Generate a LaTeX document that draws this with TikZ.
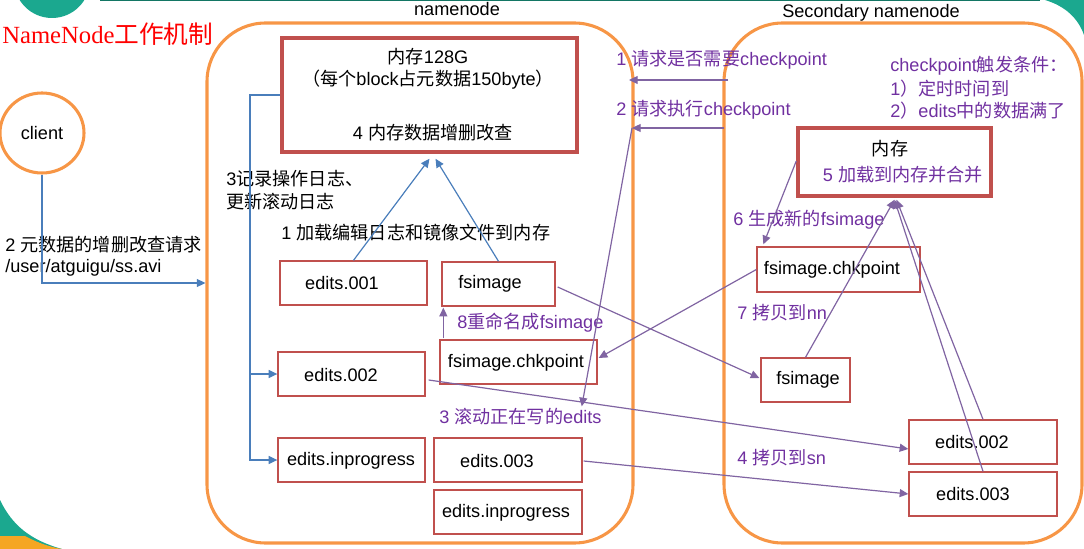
\documentclass[tikz,border=0pt]{standalone}
\usepackage{fontspec}
\setmainfont{Liberation Sans}
\newfontfamily\cjk{Noto Sans CJK SC}
\newfontfamily\titleserif{Liberation Serif}
\usetikzlibrary{arrows.meta,fit,calc,shapes.geometric}
\definecolor{orng}{HTML}{F79646}
\definecolor{boxred}{HTML}{C0504D}
\definecolor{lblue}{HTML}{4A7EBB}
\definecolor{lpurp}{HTML}{8064A2}
\definecolor{tpurp}{HTML}{7030A0}
\definecolor{deco}{HTML}{1BA88F}
\definecolor{decoorange}{HTML}{F5A623}
\newcommand{\zh}[1]{{\cjk #1}}
\tikzset{
  every node/.style={font=\fontsize{13.6}{16}\selectfont, inner sep=0pt},
  region/.style={draw=orng, line width=2.3pt, rounded corners=44pt, inner sep=0pt},
  membox/.style={draw=boxred, line width=2.6pt, inner sep=0pt},
  filebox/.style={draw=boxred, line width=1pt, inner sep=0pt},
  lbl/.style={anchor=west, text=black},
  plbl/.style={anchor=west, text=tpurp},
  bline/.style={draw=lblue, line width=0.9pt},
  barrow/.style={draw=lblue, line width=0.9pt, -{Triangle[length=6.5pt,width=6pt]}},
  parrow/.style={draw=lpurp, line width=0.9pt, -{Triangle[length=6.5pt,width=6pt]}},
}
\begin{document}
\begin{tikzpicture}[x=0.75pt,y=-0.75pt]
\useasboundingbox (0,0) rectangle (1084,549);
\clip (0,0) rectangle (1084,549);
% background decorations
\fill[deco, even odd rule] (52,-20) circle[radius=38] (52,-20) circle[radius=20];
\draw[deco!70!black, line width=1.5pt] (100,0.5) -- (1040,0.5);
\fill[deco] (1045,0) .. controls (1065,6) and (1078,18) .. (1084,35) -- (1084,0) -- cycle;
\fill[deco] (0,500) .. controls (12,525) and (30,540) .. (62,549) -- (0,549) -- cycle;
\fill[decoorange] (0,536) -- (25,536) .. controls (38,543) and (50,547) .. (62,549) -- (0,549) -- cycle;

% title
\node[anchor=west, text=red, font=\fontsize{18.5}{22}\selectfont] (title) at (2,34) {{\titleserif NameNode}\zh{工作机制}};

% regions
\node[region, fit={(207,23)(633,543)}] (nnbox) {};
\node[region, fit={(724,23)(1082,543)}] (snbox) {};
\node (nnlbl) at (457,9) {namenode};
\node (snlbl) at (871,13) {Secondary namenode};

% client
\node[ellipse, draw=orng, line width=2.3pt, minimum width=63pt, minimum height=60pt] (client) at (42,133) {client};
\node[lbl] (req) at (5,245) {2 \zh{元数据的增删改查请求}};
\node[lbl] (path) at (5,268) {/user/atguigu/ss.avi};

% namenode memory
\node[membox, fit={(282,38)(577,152)}] (mem) {};
\node (memt1) at (428,57) {\zh{内存}128G};
\node (memt2) at (428,80) {\zh{（每个}block\zh{占元数据}150byte\zh{）}};
\node (memt3) at (433,133) {4 \zh{内存数据增删改查}};

\node[lbl] (log1) at (226,179) {3\zh{记录操作日志、}};
\node[lbl] (log2) at (226,202) {\zh{更新滚动日志}};
\node[lbl] (load) at (281,233) {1 \zh{加载编辑日志和镜像文件到内存}};

% namenode files
\node[filebox, fit={(280,261)(427,305)}] (e001) {};
\node (e001t) at (342,283) {edits.001};
\node[filebox, fit={(442,262)(555,306)}] (fsN) {};
\node (fsNt) at (490,284) {fsimage};
\node[filebox, fit={(440,340)(597,384)}] (chkN) {};
\node (chkNt) at (516,363) {fsimage.chkpoint};
\node[filebox, fit={(278,352)(425,396)}] (e002N) {};
\node (e002Nt) at (341,375) {edits.002};
\node[filebox, fit={(278,438)(425,482)}] (inp1) {};
\node (inp1t) at (351,461) {edits.inprogress};
\node[filebox, fit={(434,438)(582,482)}] (e003N) {};
\node (e003Nt) at (497,461) {edits.003};
\node[filebox, fit={(434,490)(582,534)}] (inp2) {};
\node (inp2t) at (506,513) {edits.inprogress};

\node[plbl] (rename) at (457,323) {8\zh{重命名成}fsimage};
\node[plbl] (roll) at (439,417) {3 \zh{滚动正在写的}edits};

% secondary namenode
\node[plbl] (q1) at (616,60) {1 \zh{请求是否需要}checkpoint};
\node[plbl] (q2) at (616,110) {2 \zh{请求执行}checkpoint};
\node[plbl] (cond1) at (890,66) {checkpoint\zh{触发条件：}};
\node[plbl] (cond2) at (890,89) {1\zh{）定时时间到}};
\node[plbl] (cond3) at (890,111) {2\zh{）}edits\zh{中的数据满了}};

\node[membox, fit={(798,128)(991,196)}] (memS) {};
\node (memSt1) at (890,149) {\zh{内存}};
\node[text=tpurp] (memSt2) at (903,175) {5 \zh{加载到内存并合并}};

\node[plbl] (gen) at (733,220) {6 \zh{生成新的}fsimage};
\node[filebox, fit={(757,247)(920,292)}] (chkS) {};
\node (chkSt) at (832,270) {fsimage.chkpoint};
\node[plbl] (copynn) at (737,313) {7 \zh{拷贝到}nn};
\node[filebox, fit={(761,358)(850,402)}] (fsS) {};
\node (fsSt) at (808,380) {fsimage};
\node[filebox, fit={(909,420)(1057,464)}] (e002S) {};
\node (e002St) at (972,442) {edits.002};
\node[filebox, fit={(909,472)(1057,516)}] (e003S) {};
\node (e003St) at (973,494) {edits.003};
\node[plbl] (copysn) at (737,458) {4 \zh{拷贝到}sn};

% blue connectors
\draw[barrow] (client.south) |- (nnbox.west);
\coordinate (bus) at (250,95);
\draw[barrow] (mem.west) -- (bus) |- (inp1.west);
\draw[barrow] (bus |- e002N.west) -- (e002N.west);
\draw[barrow] (e001.north) -- ($(mem.south)+(0,5)$);
\draw[barrow] (fsN.north) -- ($(mem.south)+(6,5)$);

% purple connectors
\coordinate (r1s) at (728,80);
\coordinate (r1e) at (629,80);
\coordinate (r2s) at (724,128);
\coordinate (r2e) at (632,128);
\draw[parrow] (r1s) -- (r1e);
\draw[parrow] (r2s) -- (r2e);
\draw[parrow] (r2e) -- ($(roll.north east)+(-20,-2)$);
\draw[parrow] ($(chkN.north west)+(4,-1)$) -- ($(fsN.south west)+(2,1)$);
\draw[parrow] (chkS.west) -- ($(chkN.east)+(1,-4)$);
\draw[parrow] ($(fsN.east)+(2,3)$) -- ($(fsS.west)+(-1,-2)$);
\draw[parrow] ($(e002N.east)+(3,6)$) -- ($(e002S.west)+(0,7)$);
\draw[parrow] ($(e003N.east)+(1,1)$) -- (e003S.west);
\draw[parrow] ($(memS.west)+(0,-1)$) -- ($(chkS.north west)+(7,-2)$);
\draw[parrow] (fsS.north) -- ($(memS.south)+(0,2)$);
\draw[parrow] (e002S.north) -- ($(memS.south)+(2,2)$);
\draw[parrow] (e003S.north) -- ($(memS.south)+(0,2)$);
\end{tikzpicture}
\end{document}
